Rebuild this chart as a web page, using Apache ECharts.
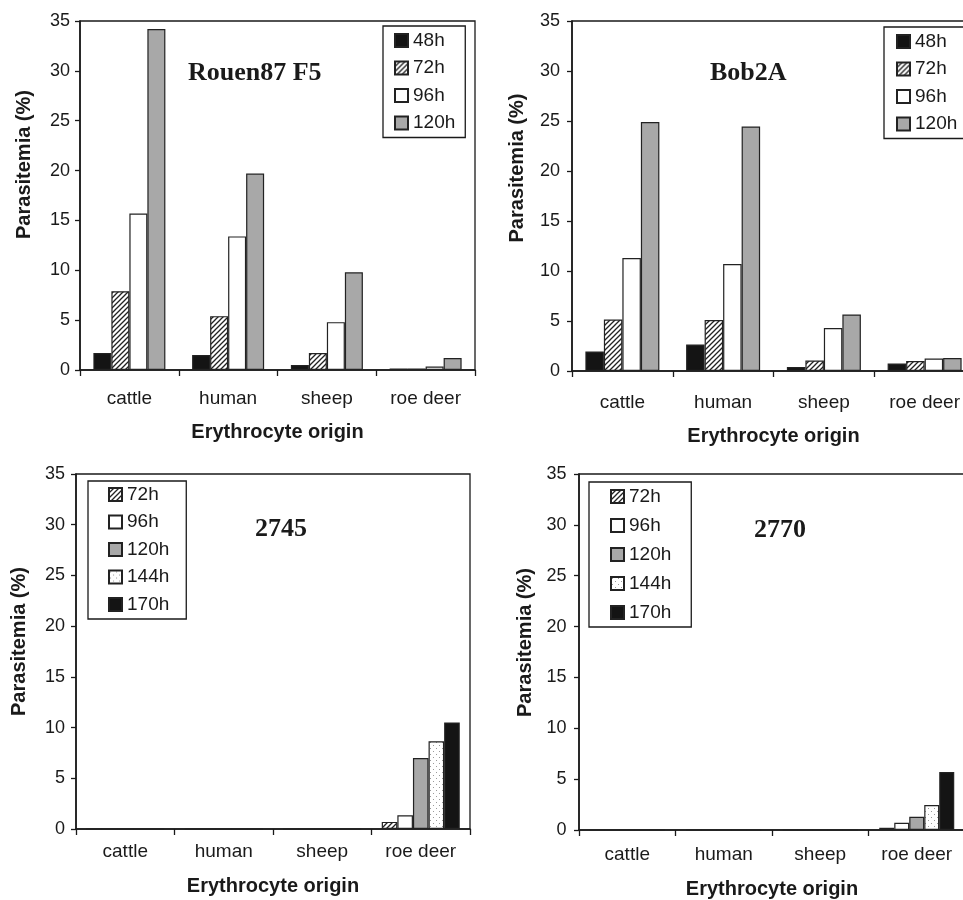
<!DOCTYPE html>
<html>
<head>
<meta charset="utf-8">
<script src="https://cdn.jsdelivr.net/npm/echarts@6.0.0/dist/echarts.min.js"></script>
<style>
  html, body { margin: 0; padding: 0; background: #fff; overflow: hidden; }
  #main { width: 963px; height: 900px; }
</style>
</head>
<body>
<div id="main"></div>
<script>
// categories and tick range
var categories = ['cattle', 'human', 'sheep', 'roe deer'];
var yMin = 0, yMax = 35, yStep = 5;

// panel titles
var panelTitles = ['Rouen87 F5', 'Bob2A', '2745', '2770'];

// Rouen87 F5
var rouenNames = ['48h', '72h', '96h', '120h'];
var rouen48 = [1.7, 1.5, 0.5, 0.15];
var rouen72 = [7.9, 5.4, 1.7, 0.15];
var rouen96 = [15.7, 13.4, 4.8, 0.35];
var rouen120 = [34.2, 19.7, 9.8, 1.2];

// Bob2A
var bobNames = ['48h', '72h', '96h', '120h'];
var bob48 = [1.95, 2.65, 0.4, 0.75];
var bob72 = [5.15, 5.1, 1.05, 1.0];
var bob96 = [11.3, 10.7, 4.3, 1.25];
var bob120 = [24.9, 24.45, 5.65, 1.3];

// 2745
var s2745Names = ['72h', '96h', '120h', '144h', '170h'];
var s2745_72 = [0, 0, 0, 0.7];
var s2745_96 = [0, 0, 0, 1.35];
var s2745_120 = [0, 0, 0, 7.0];
var s2745_144 = [0, 0, 0, 8.65];
var s2745_170 = [0, 0, 0, 10.5];

// 2770
var s2770Names = ['72h', '96h', '120h', '144h', '170h'];
var s2770_72 = [0, 0, 0, 0.22];
var s2770_96 = [0, 0, 0, 0.72];
var s2770_120 = [0, 0, 0, 1.31];
var s2770_144 = [0, 0, 0, 2.45];
var s2770_170 = [0, 0, 0, 5.7];

var SANS = '"Liberation Sans", Arial, sans-serif';
var SERIF = '"Liberation Serif", "Times New Roman", serif';
var INK = '#1a1a1a';

// fill patterns
function hatch() {
  var c = document.createElement('canvas');
  c.width = 5; c.height = 5;
  var g = c.getContext('2d');
  g.fillStyle = '#fff';
  g.fillRect(0, 0, 5, 5);
  g.strokeStyle = '#222';
  g.lineWidth = 1.3;
  g.beginPath();
  g.moveTo(-1, 6); g.lineTo(6, -1);
  g.moveTo(-3.5, 3.5); g.lineTo(3.5, -3.5);
  g.moveTo(1.5, 8.5); g.lineTo(8.5, 1.5);
  g.stroke();
  return { image: c, repeat: 'repeat' };
}
function dots() {
  var c = document.createElement('canvas');
  c.width = 6; c.height = 6;
  var g = c.getContext('2d');
  g.fillStyle = '#fff';
  g.fillRect(0, 0, 6, 6);
  g.fillStyle = '#9a9a9a';
  g.fillRect(1, 1, 1, 1);
  g.fillRect(4, 4, 1, 1);
  return { image: c, repeat: 'repeat' };
}

var fills = {
  '48h': '#141414',
  '72h': hatch(),
  '96h': '#ffffff',
  '120h': '#a8a8a8',
  '144h': dots(),
  '170h': '#141414'
};

function bar(name, data, idx, w) {
  return {
    type: 'bar', name: name, data: data,
    xAxisIndex: idx, yAxisIndex: idx,
    barWidth: w, barGap: '0%',
    itemStyle: { color: fills[name], borderColor: '#222', borderWidth: 1.2 },
    emphasis: { disabled: true }
  };
}

function xAx(gi, labelMargin, nameGap) {
  return {
    type: 'category', gridIndex: gi, data: categories,
    name: 'Erythrocyte origin', nameLocation: 'middle', nameGap: nameGap,
    nameTextStyle: { fontFamily: SANS, fontWeight: 'bold', fontSize: 20, color: INK },
    axisLine: { show: true, lineStyle: { color: INK, width: 1.6 } },
    axisTick: { show: true, length: 6, alignWithLabel: false, interval: 0, lineStyle: { color: INK, width: 1.3 } },
    axisLabel: { margin: labelMargin, interval: 0, fontFamily: SANS, fontSize: 19, color: INK },
    splitLine: { show: false }
  };
}

function yAx(gi, labelMargin, nameGap, shift) {
  return {
    type: 'value', gridIndex: gi, min: yMin, max: yMax, interval: yStep,
    name: 'Parasitemia (%)', nameLocation: 'middle', nameGap: nameGap,
    nameTextStyle: { fontFamily: SANS, fontWeight: 'bold', fontSize: 20, color: INK, padding: [0, 0, 0, shift * 2] },
    axisLine: { show: true, lineStyle: { color: INK, width: 1.6 } },
    axisTick: { show: true, length: 5, lineStyle: { color: INK, width: 1.3 } },
    axisLabel: { margin: labelMargin, fontFamily: SANS, fontSize: 18, color: INK },
    splitLine: { show: false }
  };
}

function leg(names, left, top, pad, gap) {
  return {
    data: names, orient: 'vertical', left: left, top: top,
    padding: pad, itemGap: gap, itemWidth: 13, itemHeight: 13, icon: 'rect',
    borderColor: INK, borderWidth: 1.3, backgroundColor: '#fff',
    selectedMode: false,
    textStyle: { fontFamily: SANS, fontSize: 19, color: INK, lineHeight: 19 }
  };
}

function ttl(text, left, top) {
  return {
    text: text, left: left, top: top, padding: 0,
    textStyle: { fontFamily: SERIF, fontWeight: 'bold', fontSize: 26, color: INK }
  };
}

var gridBox = { show: true, borderColor: INK, borderWidth: 1.3, backgroundColor: 'transparent', outerBoundsMode: 'none', containLabel: false };

var option = {
  animation: false,
  backgroundColor: '#fff',
  title: [
    ttl(panelTitles[0], 188, 60),
    ttl(panelTitles[1], 710, 60),
    ttl(panelTitles[2], 255, 516),
    ttl(panelTitles[3], 754, 517)
  ],
  legend: [
    leg(rouenNames, 383, 26, [5, 10, 5, 11], 8.5),
    leg(bobNames, 884, 27, [5, 10, 5, 12], 8.5),
    leg(s2745Names, 88, 481, [4, 17, 5, 20], 8.5),
    leg(s2770Names, 589, 482, [5, 20, 5, 21], 10)
  ],
  grid: [
    Object.assign({ left: 80, top: 21, width: 395, height: 349 }, gridBox),
    Object.assign({ left: 572, top: 21, width: 403, height: 350 }, gridBox),
    Object.assign({ left: 76, top: 474, width: 394, height: 355 }, gridBox),
    Object.assign({ left: 579, top: 474, width: 386, height: 356 }, gridBox)
  ],
  xAxis: [
    xAx(0, 19, 52),
    xAx(1, 22, 55),
    xAx(2, 13, 47),
    xAx(3, 15, 49)
  ],
  yAxis: [
    yAx(0, 10, 46, 31),
    yAx(1, 12, 45, 28),
    yAx(2, 11, 47, 10),
    yAx(3, 12.5, 44, 9.5)
  ],
  series: [
    bar('48h', rouen48, 0, 18),
    bar('72h', rouen72, 0, 18),
    bar('96h', rouen96, 0, 18),
    bar('120h', rouen120, 0, 18),

    bar('48h', bob48, 1, 18.5),
    bar('72h', bob72, 1, 18.5),
    bar('96h', bob96, 1, 18.5),
    bar('120h', bob120, 1, 18.5),

    bar('72h', s2745_72, 2, 15.6),
    bar('96h', s2745_96, 2, 15.6),
    bar('120h', s2745_120, 2, 15.6),
    bar('144h', s2745_144, 2, 15.6),
    bar('170h', s2745_170, 2, 15.6),

    bar('72h', s2770_72, 3, 15),
    bar('96h', s2770_96, 3, 15),
    bar('120h', s2770_120, 3, 15),
    bar('144h', s2770_144, 3, 15),
    bar('170h', s2770_170, 3, 15)
  ]
};

var chart = echarts.init(document.getElementById('main'), null, { renderer: 'canvas' });
chart.setOption(option);
</script>
</body>
</html>
